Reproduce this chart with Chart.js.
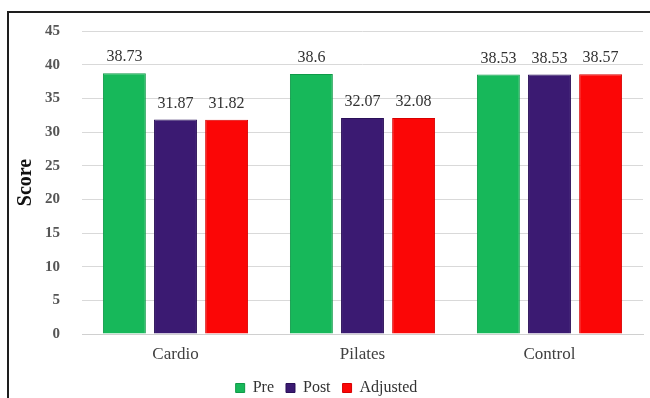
<!DOCTYPE html>
<html>
<head>
<meta charset="utf-8">
<script src="https://cdn.jsdelivr.net/npm/chart.js@4.4.1/dist/chart.umd.min.js"></script>
<style>
  html, body { margin: 0; padding: 0; background: #fff; overflow: hidden; }
  #wrap { position: relative; width: 650px; height: 398px; overflow: hidden; }
  #frame { position: absolute; left: 7px; top: 11px; width: 700px; height: 500px;
           border: 2px solid #1e1e1e; pointer-events: none; }
  canvas { position: absolute; left: 0; top: 0; }
</style>
</head>
<body>
<div id="wrap">
  <canvas id="c" width="650" height="398"></canvas>
  <div id="frame"></div>
</div>
<script>
const categories = ["Cardio", "Pilates", "Control"];
const seriesNames = ["Pre", "Post", "Adjusted"];
const preValues = [38.73, 38.6, 38.53];
const postValues = [31.87, 32.07, 38.53];
const adjustedValues = [31.82, 32.08, 38.57];
const yTicks = [0, 5, 10, 15, 20, 25, 30, 35, 40, 45];
const valueLabels = [
  ["38.73", "38.6", "38.53"],
  ["31.87", "32.07", "38.53"],
  ["31.82", "32.08", "38.57"]
];

Chart.defaults.font.family = "'Liberation Serif', 'Times New Roman', serif";

const valueLabelPlugin = {
  id: 'valueLabels',
  afterDatasetsDraw(chart) {
    const ctx = chart.ctx;
    ctx.save();
    ctx.font = "16px 'Liberation Serif', 'Times New Roman', serif";
    ctx.fillStyle = '#333333';
    ctx.textAlign = 'center';
    ctx.textBaseline = 'bottom';
    chart.data.datasets.forEach((ds, di) => {
      const meta = chart.getDatasetMeta(di);
      meta.data.forEach((el, i) => {
        ctx.fillText(valueLabels[di][i], el.x, el.y - 8);
      });
    });
    ctx.restore();
  }
};

new Chart(document.getElementById('c'), {
  type: 'bar',
  data: {
    labels: categories,
    datasets: [
      { label: seriesNames[0], data: preValues, backgroundColor: '#17b85a', borderColor: '#0f9a48', borderWidth: 1 },
      { label: seriesNames[1], data: postValues, backgroundColor: '#3b1a72', borderColor: '#2a1058', borderWidth: 1 },
      { label: seriesNames[2], data: adjustedValues, backgroundColor: '#fb0606', borderColor: '#d80000', borderWidth: 1 }
    ]
  },
  options: {
    responsive: false,
    animation: false,
    devicePixelRatio: 1,
    layout: { padding: { left: 10, right: 7, top: 31, bottom: -8 } },
    datasets: { bar: { categoryPercentage: 0.82, barPercentage: 0.84 } },
    plugins: {
      legend: {
        position: 'bottom',
        labels: {
          boxWidth: 9, boxHeight: 9, padding: 12,
          color: '#333333',
          font: { size: 16 }
        }
      },
      tooltip: { enabled: false }
    },
    scales: {
      x: {
        grid: { display: false, drawTicks: false },
        border: { display: true, color: '#d0d0d0' },
        ticks: { color: '#404040', font: { size: 17 }, padding: 10 },
        afterFit(scale) { scale.height = 34; }
      },
      y: {
        min: 0, max: 45,
        afterBuildTicks(scale) { scale.ticks = yTicks.map(v => ({ value: v })); },
        grid: { color: '#d9d9d9', drawTicks: false },
        border: { display: false },
        ticks: { color: '#555555', font: { size: 15, weight: 'bold' }, padding: 22 },
        title: { display: true, text: 'Score', color: '#111111', font: { size: 20, weight: 'bold' }, padding: { top: 4, bottom: 0 } },
        afterFit(scale) { scale.width = 72; }
      }
    }
  },
  plugins: [valueLabelPlugin]
});
</script>
</body>
</html>
